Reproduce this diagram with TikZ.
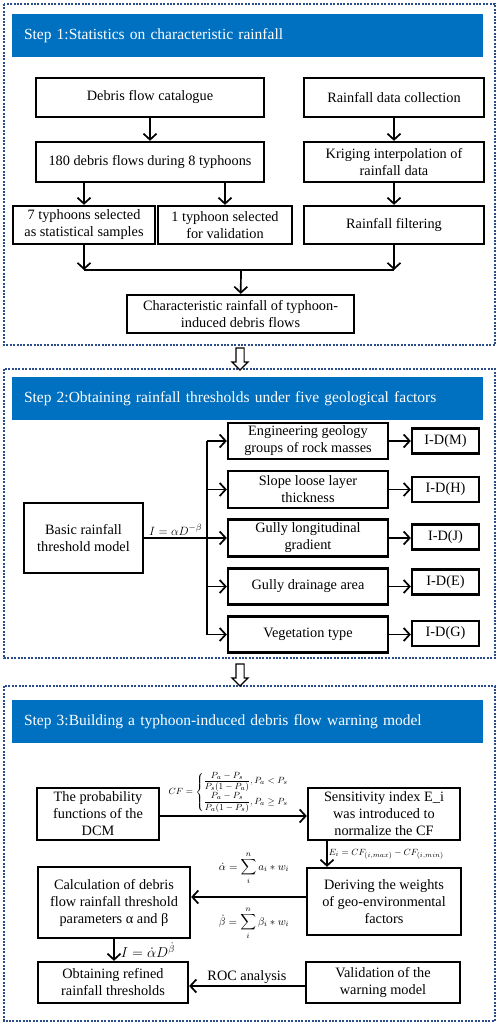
\documentclass[tikz,border=0pt]{standalone}
\usepackage{amsmath}
\usepackage{fontspec}
\setmainfont{Liberation Serif}
\usetikzlibrary{arrows.meta,shapes.arrows}
\definecolor{bannerblue}{RGB}{0,112,192}
\definecolor{framenavy}{RGB}{43,76,140}
\tikzstyle{block} = [draw, line width=2.3pt, fill=white, rectangle, align=center, inner sep=1pt, font=\fontsize{14.3}{17}\selectfont]
\tikzstyle{idblock} = [block, minimum width=67pt, minimum height=25pt]
\tikzstyle{banner} = [fill=bannerblue, text=white, minimum width=471pt, minimum height=43pt, text width=447pt, inner xsep=12pt, align=left, font=\fontsize{15.5}{18}\selectfont]
\tikzstyle{frame} = [framenavy, line width=2pt, dash pattern=on 2pt off 1.4pt]
\tikzstyle{hollow} = [draw, single arrow, fill=white, line width=1.2pt, rotate=-90, inner xsep=0pt, inner ysep=3.5pt, minimum height=22pt, minimum width=15pt, single arrow head extend=4pt]
\tikzstyle{link} = [line width=1.7pt, -{Straight Barb[length=6pt,width=13pt]}]
\tikzstyle{eq} = [font=\fontsize{9.5}{11}\selectfont, inner sep=1pt]

\begin{document}
\begin{tikzpicture}[x=1pt, y=-1pt]
        \useasboundingbox (0,0) rectangle (498,1025);

        % frames and step banners
        \draw[frame] (4,4) rectangle (495,345);
        \draw[frame] (4,369) rectangle (495,658);
        \draw[frame] (4,686) rectangle (495,1021);
        \node [banner] (ban1) at (247.5,36) {Step 1:Statistics on characteristic rainfall};
        \node [banner] (ban2) at (247.5,398.5) {Step 2:Obtaining rainfall thresholds under five geological factors};
        \node [banner] (ban3) at (247.5,721.5) {Step 3:Building a typhoon-induced debris flow warning model};

        % step 1
        \node [block, minimum width=228pt, minimum height=39pt] (cat) at (150,97.5) {Debris flow catalogue};
        \node [block, minimum width=180pt, minimum height=39pt] (rcol) at (394,97.5) {Rainfall data collection};
        \node [block, minimum width=228pt, minimum height=40pt] (flows) at (150,162) {180 debris flows during 8 typhoons};
        \node [block, minimum width=180pt, minimum height=40pt] (krig) at (394,162) {Kriging interpolation of\\rainfall data};
        \node [block, minimum width=142pt, minimum height=38pt] (seven) at (84,225) {7 typhoons selected\\as statistical samples};
        \node [block, minimum width=134pt, minimum height=38pt] (one) at (225,225) {1 typhoon selected\\for validation};
        \node [block, minimum width=180pt, minimum height=38pt] (filt) at (394,225) {Rainfall filtering};
        \node [block, minimum width=227pt, minimum height=38pt] (charr) at (240.5,314) {Characteristic rainfall of typhoon-\\induced debris flows};
        \coordinate (merge) at (241,270);

        \draw[link] (cat) -- (flows);
        \draw[link] (rcol) -- (krig);
        \draw[link] (krig) -- (filt);
        \draw[link] (seven.north |- flows.south) -- (seven.north);
        \draw[link] (one.north |- flows.south) -- (one.north);
        \draw[link] (seven.south) -- (seven.south |- merge);
        \draw[link] (filt.south) -- (filt.south |- merge);
        \draw[line width=1.7pt] (seven.south |- merge) -- (filt.south |- merge);
        \draw[link] (merge) -- (charr);

        \node [hollow] (hol1) at (240,357) {};

        % step 2
        \node [block, minimum width=119pt, minimum height=70pt] (basic) at (83.5,538) {Basic rainfall\\threshold model};
        \node [block, minimum width=160pt, minimum height=36pt] (fac1) at (308,441) {Engineering geology\\groups of rock masses};
        \node [block, minimum width=160pt, minimum height=37pt] (fac2) at (308,489.5) {Slope loose layer\\thickness};
        \node [block, minimum width=160pt, minimum height=37pt] (fac3) at (308,538) {Gully longitudinal\\gradient};
        \node [block, minimum width=160pt, minimum height=36pt] (fac4) at (308,586.5) {Gully drainage area};
        \node [block, minimum width=160pt, minimum height=36pt] (fac5) at (308,634.5) {Vegetation type};
        \node [idblock] (id1) at (445.5,441) {I-D(M)};
        \node [idblock] (id2) at (445.5,489.5) {I-D(H)};
        \node [idblock] (id3) at (445.5,537) {I-D(J)};
        \node [idblock] (id4) at (445.5,582) {I-D(E)};
        \node [idblock] (id5) at (445.5,633.5) {I-D(G)};
        \coordinate (trunk) at (207,538);

        \draw[line width=1.7pt] (basic) -- node[above, font=\fontsize{13}{15}\selectfont, inner sep=2pt] {$I=\alpha D^{-\beta}$} (trunk);
        \draw[line width=1.7pt] (trunk |- fac1) -- (trunk |- fac5);
        \draw[link] (trunk |- fac1) -- (fac1);
        \draw[link] (trunk |- fac2) -- (fac2);
        \draw[link] (trunk |- fac3) -- (fac3);
        \draw[link] (trunk |- fac4) -- (fac4);
        \draw[link] (trunk |- fac5) -- (fac5);
        \draw[link] (fac1) -- (fac1 -| id1.west);
        \draw[link] (fac2) -- (fac2 -| id2.west);
        \draw[link] (fac3) -- (fac3 -| id3.west);
        \draw[link] (fac4) -- (fac4 -| id4.west);
        \draw[link] (fac5) -- (fac5 -| id5.west);

        \node [hollow] (hol2) at (240,673) {};

        % step 3
        \node [block, minimum width=122pt, minimum height=52pt] (prob) at (98,814) {The probability\\functions of the\\DCM};
        \node [block, minimum width=152pt, minimum height=52pt] (sens) at (384,814) {Sensitivity index E\_i\\was introduced to\\normalize the CF};
        \node [block, minimum width=154pt, minimum height=67pt] (deriv) at (384,901.5) {Deriving the weights\\of geo-environmental\\factors};
        \node [block, minimum width=152pt, minimum height=71pt] (calc) at (114,902.5) {Calculation of debris\\flow rainfall threshold\\parameters α and β};
        \node [block, minimum width=150pt, minimum height=41pt] (obt) at (113,982.5) {Obtaining refined\\rainfall thresholds};
        \node [block, minimum width=154pt, minimum height=41pt] (valid) at (383,982.5) {Validation of the\\warning model};

        \draw[link] (prob.east |- 0,816) -- node[above, eq, inner sep=2pt] (cfeq) {$CF=\begin{cases}\dfrac{P_a-P_s}{P_s(1-P_a)},P_a<P_s\\[5pt]\dfrac{P_a-P_s}{P_a(1-P_s)},P_a\ge P_s\end{cases}$} (sens.west |- 0,816);
        \draw[link] ([xshift=-57pt]sens.south) -- node[right, eq] (eieq) {$E_i=CF_{(i,max)}-CF_{(i,min)}$} ([xshift=-57pt]sens.south |- deriv.north);
        \draw[link] (deriv.west |- 0,897) -- (calc.east |- 0,897);
        \node [eq, font=\fontsize{11}{13}\selectfont] (aleq) at (254,868) {$\displaystyle\dot\alpha=\sum_{i}^{n}a_i*w_i$};
        \node [eq, font=\fontsize{11}{13}\selectfont] (bteq) at (254,923) {$\displaystyle\dot\beta=\sum_{i}^{n}\beta_i*w_i$};
        \draw[link] (calc.south) -- node[right, font=\fontsize{14.5}{16}\selectfont, inner xsep=6pt] (ieq) {$I=\dot\alpha D^{\dot\beta}$} (calc.south |- obt.north);
        \draw[link] (valid.west |- 0,986) -- node[above, font=\fontsize{14.3}{17}\selectfont, inner sep=2pt] (roc) {ROC analysis} (obt.east |- 0,986);
    \end{tikzpicture}
\end{document}
